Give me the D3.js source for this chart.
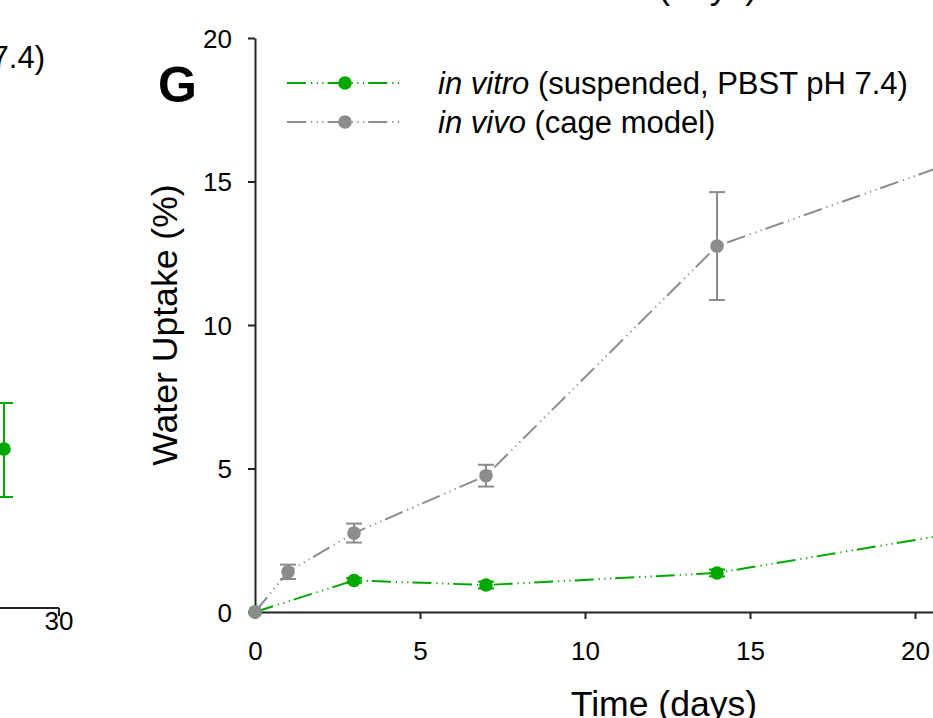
<!DOCTYPE html>
<html>
<head>
<meta charset="utf-8">
<script src="https://cdn.jsdelivr.net/npm/d3@7"></script>
<style>
  body { margin: 0; background: #fff; }
  svg { display: block; font-family: "Liberation Sans", Arial, sans-serif; }
</style>
</head>
<body>
<svg width="933" height="718"></svg>
<script>
// in vivo (cage model), water uptake % and error
const vivoDays = [0, 1, 3, 7, 14, 21];
const vivoMean = [0, 1.40, 2.75, 4.75, 12.75, 15.6];
const vivoErr  = [0, 0.25, 0.33, 0.38, 1.88, 0];

// in vitro (suspended, PBST pH 7.4)
const vitroDays = [0, 3, 7, 14, 21];
const vitroMean = [0, 1.10, 0.94, 1.36, 2.7];
const vitroErr  = [0, 0.08, 0.12, 0.12, 0];

const xTicks = [0, 5, 10, 15, 20, 25];
const yTicks = [0, 5, 10, 15, 20];

const green = "#00a800", grey = "#8c8c8c";
const dash = "19,5,1.2,4.5,1.2,4.5,1.2,4";

let svg = d3.select("svg"),
    margin = {top: 38, left: 255},
    width = 825,            // axis runs to day 25, past the crop
    height = 574,
    g = svg.append("g").attr("transform", "translate(" + margin.left + "," + margin.top + ")");

let x = d3.scaleLinear().domain([0, 25]).range([0, width]),
    y = d3.scaleLinear().domain([0, 20]).range([height, 0]);

// axes
let xAxis = g.append("g")
    .attr("transform", "translate(0," + height + ")")
    .call(d3.axisBottom(x).tickValues(xTicks).tickSize(7).tickSizeOuter(0));
let yAxis = g.append("g")
    .call(d3.axisLeft(y).tickValues(yTicks).tickSize(7).tickSizeOuter(0).tickPadding(16));
[xAxis, yAxis].forEach(a => {
  a.attr("font-size", null).attr("font-family", null);
  a.selectAll("path, line").attr("stroke", "#222").attr("stroke-width", 2);
  a.selectAll("text").attr("font-size", 26).attr("fill", "#000");
});
xAxis.selectAll("text").attr("dy", "0.71em").attr("y", 30);
yAxis.selectAll("text").attr("dy", "0.36em");

// axis titles
svg.append("text")
    .attr("transform", "translate(177,325) rotate(-90)")
    .attr("text-anchor", "middle")
    .attr("font-size", 35.6)
    .text("Water Uptake (%)");
svg.append("text")
    .attr("x", 664).attr("y", 716)
    .attr("text-anchor", "middle")
    .attr("font-size", 35.6)
    .text("Time (days)");
// tail of the panel above
svg.append("text")
    .attr("x", 664).attr("y", -1)
    .attr("text-anchor", "middle")
    .attr("font-size", 35.6)
    .text("Time (days)");

svg.append("text")
    .attr("x", 158).attr("y", 102)
    .attr("font-size", 50).attr("font-weight", "bold")
    .text("G");

// series
function drawSeries(xs, ms, es, color) {
  let pts = xs.map((d, i) => ({t: d, v: ms[i], e: es[i]}));
  let line = d3.line().x(d => x(d.t)).y(d => y(d.v));
  g.append("path")
      .datum(pts)
      .attr("fill", "none")
      .attr("stroke", color)
      .attr("stroke-width", 2)
      .attr("stroke-dasharray", dash)
      .attr("d", line);
  let eb = g.selectAll(null).data(pts.filter(d => d.e > 0)).enter().append("g")
      .attr("stroke", color).attr("stroke-width", 2);
  eb.append("line")
      .attr("x1", d => x(d.t)).attr("x2", d => x(d.t))
      .attr("y1", d => y(d.v - d.e)).attr("y2", d => y(d.v + d.e));
  eb.append("line")
      .attr("x1", d => x(d.t) - 8).attr("x2", d => x(d.t) + 8)
      .attr("y1", d => y(d.v + d.e)).attr("y2", d => y(d.v + d.e));
  eb.append("line")
      .attr("x1", d => x(d.t) - 8).attr("x2", d => x(d.t) + 8)
      .attr("y1", d => y(d.v - d.e)).attr("y2", d => y(d.v - d.e));
  g.selectAll(null).data(pts).enter().append("circle")
      .attr("r", 6.8)
      .attr("fill", color)
      .attr("cx", d => x(d.t))
      .attr("cy", d => y(d.v));
}
drawSeries(vitroDays, vitroMean, vitroErr, green);
drawSeries(vivoDays, vivoMean, vivoErr, grey);

// legend
const legendItems = [
  {it: "in vitro", rest: " (suspended, PBST pH 7.4)", color: green, y: 83},
  {it: "in vivo", rest: " (cage model)", color: grey, y: 122}
];
legendItems.forEach(l => {
  svg.append("line")
      .attr("x1", 287).attr("x2", 400).attr("y1", l.y).attr("y2", l.y)
      .attr("stroke", l.color).attr("stroke-width", 2)
      .attr("stroke-dasharray", dash);
  svg.append("circle").attr("cx", 345).attr("cy", l.y).attr("r", 6.8).attr("fill", l.color);
  let t = svg.append("text").attr("x", 438).attr("y", l.y + 11).attr("font-size", 31);
  t.append("tspan").attr("font-style", "italic").text(l.it);
  t.append("tspan").text(l.rest);
});

// edge of the neighbouring panel on the left
const leftPanelX = [30];
const leftPanelPoint = {v: 449, lo: 497, hi: 403};
svg.append("text")
    .attr("x", 45).attr("y", 68)
    .attr("text-anchor", "end")
    .attr("font-size", 31)
    .text("7.4)");
svg.append("line").attr("x1", 0).attr("x2", 59).attr("y1", 608).attr("y2", 608)
    .attr("stroke", "#222").attr("stroke-width", 2);
svg.append("line").attr("x1", 59).attr("x2", 59).attr("y1", 608).attr("y2", 616)
    .attr("stroke", "#222").attr("stroke-width", 2);
svg.append("text").attr("x", 59).attr("y", 630)
    .attr("text-anchor", "middle").attr("font-size", 26)
    .text(leftPanelX[0]);
let lp = svg.append("g").attr("stroke", green).attr("stroke-width", 2);
lp.append("line").attr("x1", 4).attr("x2", 4).attr("y1", leftPanelPoint.hi).attr("y2", leftPanelPoint.lo);
lp.append("line").attr("x1", -5).attr("x2", 13).attr("y1", leftPanelPoint.hi).attr("y2", leftPanelPoint.hi);
lp.append("line").attr("x1", -5).attr("x2", 13).attr("y1", leftPanelPoint.lo).attr("y2", leftPanelPoint.lo);
svg.append("circle").attr("cx", 4).attr("cy", leftPanelPoint.v).attr("r", 6.8).attr("fill", green);
</script>
</body>
</html>
